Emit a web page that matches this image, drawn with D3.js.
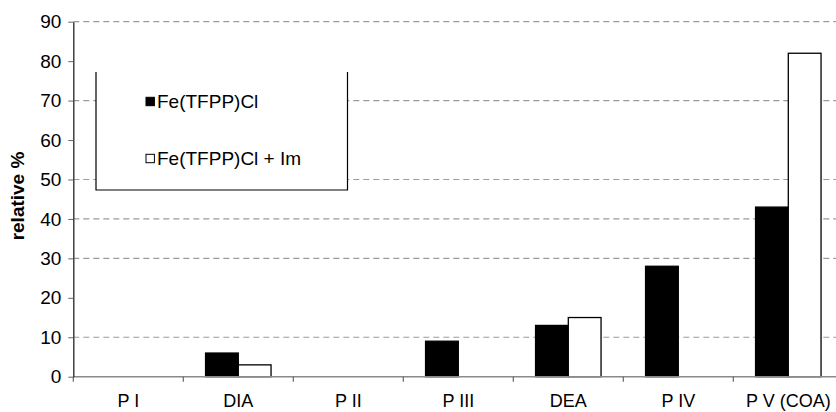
<!DOCTYPE html>
<html>
<head>
<meta charset="utf-8">
<script src="https://cdn.jsdelivr.net/npm/d3@7"></script>
<style>
  html, body { margin: 0; padding: 0; background: #fff; }
  svg { display: block; font-family: "Liberation Sans", Arial, sans-serif; }
</style>
</head>
<body>
<svg id="chart" width="836" height="412"></svg>
<script>
const categories = ["P I", "DIA", "P II", "P III", "DEA", "P IV", "P V (COA)"];
const seriesNames = ["Fe(TFPP)Cl", "Fe(TFPP)Cl + Im"];
const feValues = [0, 6, 0, 9, 13, 28, 43];
const feImValues = [0, 3, 0, 0, 15, 0, 82];
const yTicks = [0, 10, 20, 30, 40, 50, 60, 70, 80, 90];
const gridValues = [10, 30, 40, 50, 70, 90];
const yTitle = "relative %";

(function () {
const seriesValues = [feValues, feImValues];
const seriesFill = ["#000000", "#ffffff"];

const svg = d3.select("#chart");
const W = 836;
const plotLeft = 73.3, bandW = 110, plotTop = 21.7, plotBottom = 376.7;

const x = d3.scaleBand().domain(categories)
  .range([plotLeft, plotLeft + bandW * categories.length]).paddingInner(0).paddingOuter(0);
const x1 = d3.scaleBand().domain(seriesNames).range([0, x.bandwidth()])
  .paddingInner(0).paddingOuter(0.68);
const y = d3.scaleLinear().domain([0, 90]).range([plotBottom, plotTop]);

// gridlines
svg.append("g").selectAll("line").data(gridValues).join("line")
  .attr("x1", plotLeft).attr("x2", W)
  .attr("y1", d => y(d)).attr("y2", d => y(d))
  .attr("stroke", "#9a9a9a").attr("stroke-width", 1.2)
  .attr("stroke-dasharray", "6,4");

// bars
const rows = [];
categories.forEach((c, i) => {
  seriesNames.forEach((s, j) => {
    rows.push({ c, s, j, v: seriesValues[j][i] });
  });
});
svg.append("g").selectAll("rect").data(rows.filter(d => d.v > 0)).join("rect")
  .attr("x", d => x(d.c) + x1(d.s))
  .attr("width", x1.bandwidth())
  .attr("y", d => y(d.v))
  .attr("height", d => y(0) - y(d.v))
  .attr("fill", d => seriesFill[d.j])
  .attr("stroke", "#000").attr("stroke-width", 1.3);

// x axis
const xAxis = svg.append("g").attr("transform", `translate(0,${plotBottom})`)
  .call(d3.axisBottom(x).tickSize(0).tickPadding(18));
xAxis.select(".domain").remove();
xAxis.selectAll("text").attr("font-size", 18).attr("fill", "#000")
  .attr("font-family", "Liberation Sans, Arial, sans-serif").attr("dy", "0.71em");
svg.append("line").attr("x1", plotLeft).attr("x2", W).attr("y1", plotBottom).attr("y2", plotBottom)
  .attr("stroke", "#8a8a8a").attr("stroke-width", 1.5);
svg.append("g").selectAll("line").data(categories).join("line")
  .attr("x1", d => x(d)).attr("x2", d => x(d))
  .attr("y1", plotBottom).attr("y2", plotBottom + 5)
  .attr("stroke", "#666").attr("stroke-width", 1.2);

// y axis
const yAxis = svg.append("g").attr("transform", `translate(${plotLeft},0)`)
  .call(d3.axisLeft(y).tickValues(yTicks).tickSize(5).tickPadding(7).tickSizeOuter(0));
yAxis.select(".domain").attr("stroke", "#333").attr("stroke-width", 1.4);
yAxis.selectAll(".tick line").attr("stroke", "#666");
yAxis.selectAll("text").attr("font-size", 19).attr("fill", "#000")
  .attr("font-family", "Liberation Sans, Arial, sans-serif");

// y title
svg.append("text")
  .attr("transform", `translate(24,196) rotate(-90)`)
  .attr("text-anchor", "middle")
  .attr("font-size", 19).attr("font-weight", "bold")
  .text(yTitle);

// legend
const lg = svg.append("g");
const lx0 = 96, lx1 = 347.5, ly0 = 72, ly1 = 190;
lg.append("rect").attr("x", lx0).attr("y", ly0).attr("width", lx1 - lx0).attr("height", ly1 - ly0)
  .attr("fill", "#fff");
lg.append("path")
  .attr("d", `M${lx0},${ly0}V${ly1}H${lx1}V${ly0}`)
  .attr("fill", "none").attr("stroke", "#000").attr("stroke-width", 1.2);
seriesNames.forEach((s, j) => {
  const cy = 101.5 + j * 57;
  lg.append("rect").attr("x", 146).attr("y", cy - 4.2).attr("width", 8.4).attr("height", 8.4)
    .attr("fill", seriesFill[j]).attr("stroke", "#000").attr("stroke-width", 1);
  lg.append("text").attr("x", 157).attr("y", cy).attr("dy", "0.35em")
    .attr("font-size", 19).text(s);
});
})();
</script>
</body>
</html>
